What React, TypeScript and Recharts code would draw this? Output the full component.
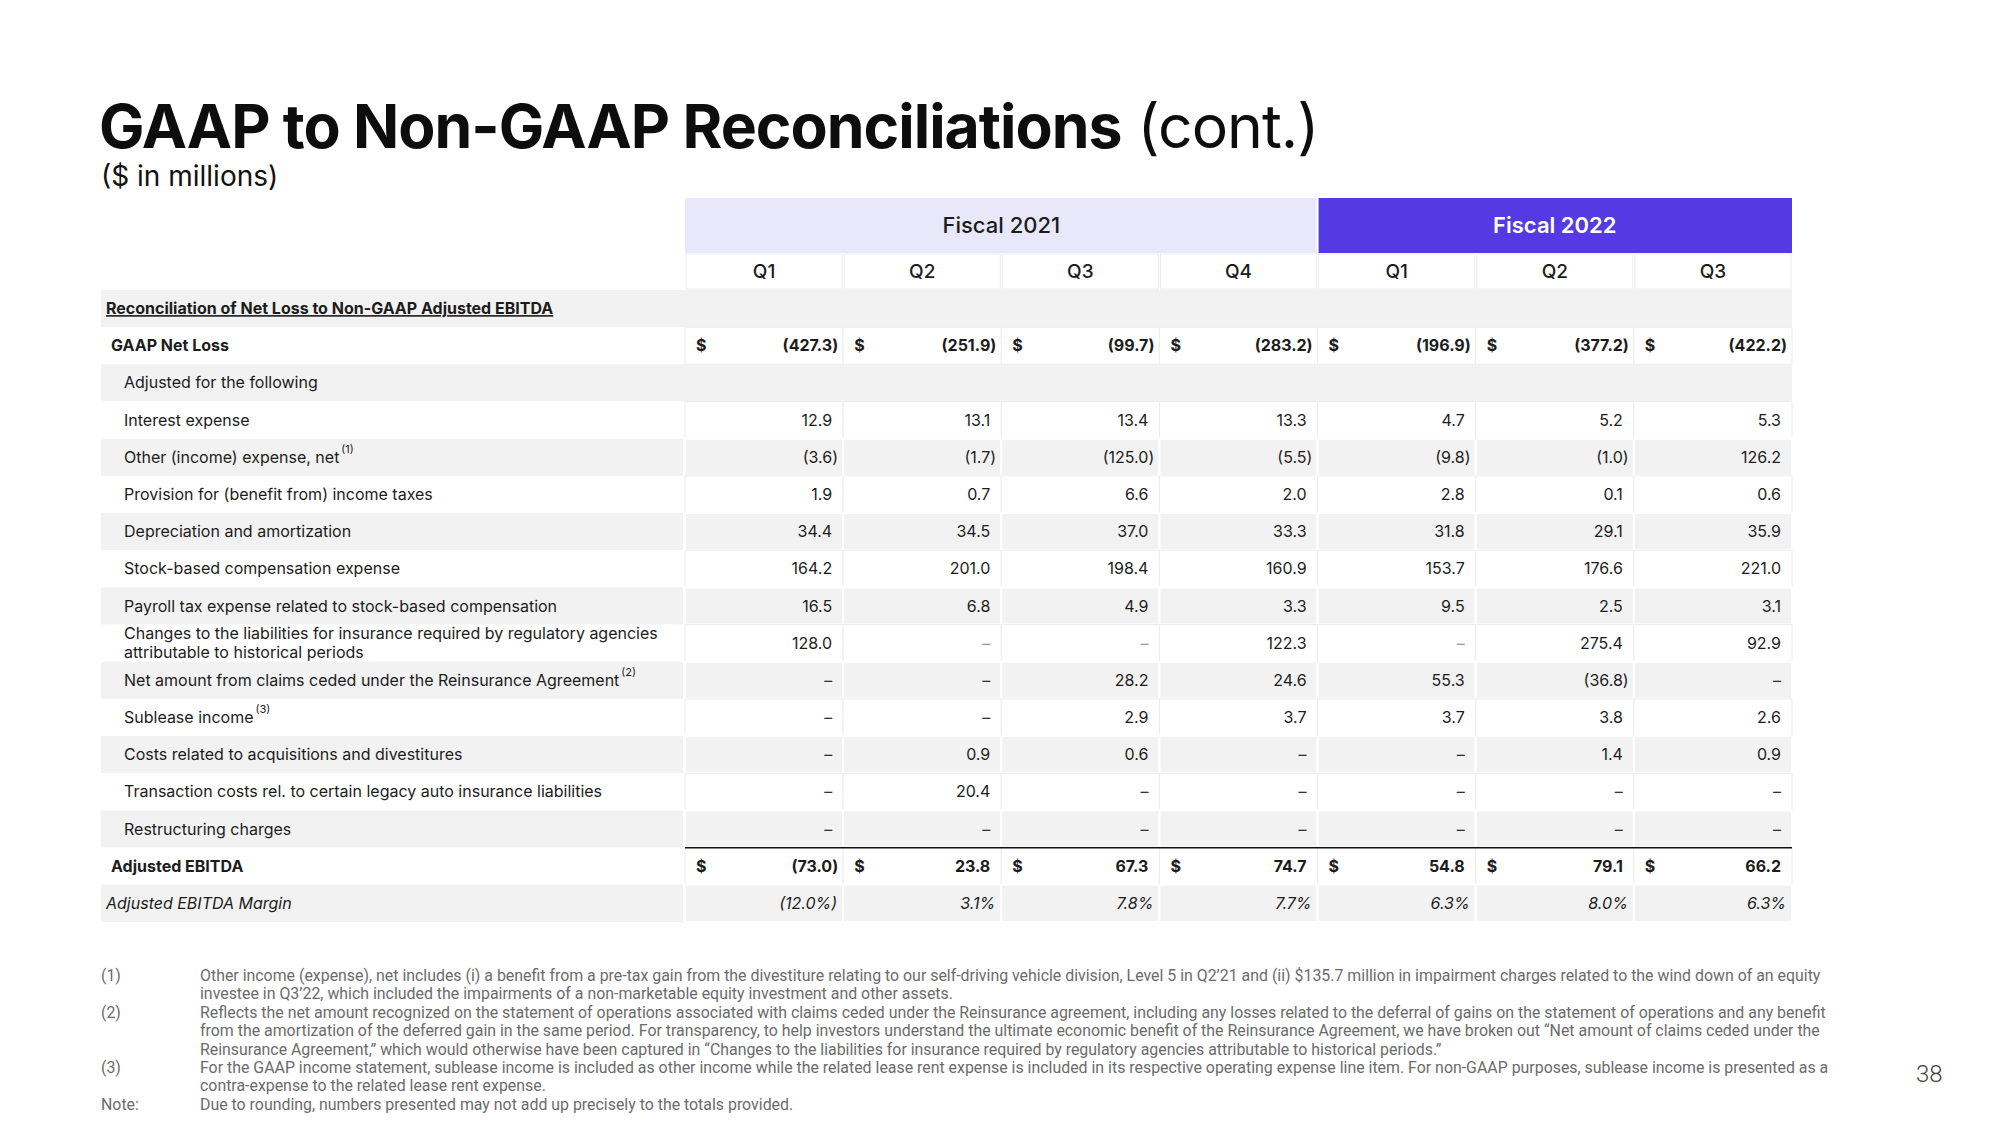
import React from 'react';
import { ScatterChart, Scatter, XAxis, YAxis, ReferenceArea } from 'recharts';

// row labels of the reconciliation table (top to bottom)
const rowLabels = [
  'Reconciliation of Net Loss to Non-GAAP Adjusted EBITDA',
  'GAAP Net Loss',
  'Adjusted for the following',
  'Interest expense',
  'Other (income) expense, net',
  'Provision for (benefit from) income taxes',
  'Depreciation and amortization',
  'Stock-based compensation expense',
  'Payroll tax expense related to stock-based compensation',
  'Changes to the liabilities for insurance required by regulatory agencies\nattributable to historical periods',
  'Net amount from claims ceded under the Reinsurance Agreement',
  'Sublease income',
  'Costs related to acquisitions and divestitures',
  'Transaction costs rel. to certain legacy auto insurance liabilities',
  'Restructuring charges',
  'Adjusted EBITDA',
  'Adjusted EBITDA Margin',
];
const rowNotes = [null, null, null, null, '(1)', null, null, null, null, null, '(2)', '(3)', null, null, null, null, null];

const quarterKeys = ['Q1 FY21', 'Q2 FY21', 'Q3 FY21', 'Q4 FY21', 'Q1 FY22', 'Q2 FY22', 'Q3 FY22'];
const quarterLabels = ['Q1', 'Q2', 'Q3', 'Q4', 'Q1', 'Q2', 'Q3'];
const fiscalYears = ['Fiscal 2021', 'Fiscal 2022'];
const quarterFiscal = [0, 0, 0, 0, 1, 1, 1];

// $ in millions; null = blank cell, 0 = dash; last row is margin in %
const q1fy21 = [null, -427.3, null, 12.9, -3.6, 1.9, 34.4, 164.2, 16.5, 128.0, 0, 0, 0, 0, 0, -73.0, -12.0];
const q2fy21 = [null, -251.9, null, 13.1, -1.7, 0.7, 34.5, 201.0, 6.8, 0, 0, 0, 0.9, 20.4, 0, 23.8, 3.1];
const q3fy21 = [null, -99.7, null, 13.4, -125.0, 6.6, 37.0, 198.4, 4.9, 0, 28.2, 2.9, 0.6, 0, 0, 67.3, 7.8];
const q4fy21 = [null, -283.2, null, 13.3, -5.5, 2.0, 33.3, 160.9, 3.3, 122.3, 24.6, 3.7, 0, 0, 0, 74.7, 7.7];
const q1fy22 = [null, -196.9, null, 4.7, -9.8, 2.8, 31.8, 153.7, 9.5, 0, 55.3, 3.7, 0, 0, 0, 54.8, 6.3];
const q2fy22 = [null, -377.2, null, 5.2, -1.0, 0.1, 29.1, 176.6, 2.5, 275.4, -36.8, 3.8, 1.4, 0, 0, 79.1, 8.0];
const q3fy22 = [null, -422.2, null, 5.3, 126.2, 0.6, 35.9, 221.0, 3.1, 92.9, 0, 2.6, 0.9, 0, 0, 66.2, 6.3];
const seriesByQuarter = [q1fy21, q2fy21, q3fy21, q4fy21, q1fy22, q2fy22, q3fy22];

const footnotes = [
  { mark: '(1)', text: 'Other income (expense), net includes (i) a benefit from a pre-tax gain from the divestiture relating to our self-driving vehicle division, Level 5 in Q2\u201921 and (ii) $135.7 million in impairment charges related to the wind down of an equity' },
  { mark: '', text: 'investee in Q3\u201922, which included the impairments of a non-marketable equity investment and other assets.' },
  { mark: '(2)', text: 'Reflects the net amount recognized on the statement of operations associated with claims ceded under the Reinsurance agreement, including any losses related to the deferral of gains on the statement of operations and any benefit' },
  { mark: '', text: 'from the amortization of the deferred gain in the same period. For transparency, to help investors understand the ultimate economic benefit of the Reinsurance Agreement, we have broken out \u201cNet amount of claims ceded under the' },
  { mark: '', text: 'Reinsurance Agreement,\u201d which would otherwise have been captured in \u201cChanges to the liabilities for insurance required by regulatory agencies attributable to historical periods.\u201d' },
  { mark: '(3)', text: 'For the GAAP income statement, sublease income is included as other income while the related lease rent expense is included in its respective operating expense line item. For non-GAAP purposes, sublease income is presented as a' },
  { mark: '', text: 'contra-expense to the related lease rent expense.' },
  { mark: 'Note:', text: 'Due to rounding, numbers presented may not add up precisely to the totals provided.' },
];

const cells = [];
rowLabels.forEach((row, r) => {
  quarterKeys.forEach((q, c) => {
    cells.push({ row, quarter: q, rowIdx: r, colIdx: c, value: seriesByQuarter[c][r] });
  });
});

const W = 2000;
const H = 1125;
const LEFT = 101;
const PLOT_L = 685;
const PLOT_R = 1792;
const HEAD_TOP = 198;
const FY_H = 55;
const PLOT_T = 290;
const PLOT_B = 922;
const COL_W = (PLOT_R - PLOT_L) / quarterKeys.length;
const ROW_H = (PLOT_B - PLOT_T) / rowLabels.length;

const FONT = 'Inter, "Noto Sans", sans-serif';
const INK = '#1c1c1c';
const STRIPE = '#f2f2f2';
const TOTAL_ROWS = [1, 15];
const MARGIN_ROW = 16;
const SOLID_ROWS = [0, 2]; // gray rows without cell gaps

function QuarterTick(props) {
  const { x, payload } = props;
  const i = quarterKeys.indexOf(payload.value);
  const left = x - COL_W / 2;
  const fy = quarterFiscal[i];
  const first = quarterFiscal.indexOf(fy) === i;
  const n = quarterFiscal.filter((f) => f === fy).length;
  return (
    <g>
      {first && (
        <g>
          <rect x={left + (fy ? 1 : 0)} y={HEAD_TOP} width={n * COL_W - 1} height={FY_H} fill={fy ? '#5539e3' : '#e9e8fb'} />
          <text x={left + (n * COL_W) / 2} y={HEAD_TOP + 35} textAnchor="middle" fontFamily={FONT} fontSize={22} fontWeight={fy ? 600 : 500} fill={fy ? '#fff' : INK}>
            {fiscalYears[fy]}
          </text>
        </g>
      )}
      <rect x={left + 1} y={HEAD_TOP + FY_H + 1} width={COL_W - 2} height={PLOT_T - HEAD_TOP - FY_H - 2} fill="#fff" stroke="#ececec" />
      <text x={x} y={278} textAnchor="middle" fontFamily={FONT} fontSize={19} fontWeight={500} fill={INK}>
        {quarterLabels[i]}
      </text>
    </g>
  );
}

function RowTick(props) {
  const { y, payload } = props;
  const i = rowLabels.indexOf(payload.value);
  const gray = i % 2 === 0;
  const lines = payload.value.split('\n');
  let lx = 124;
  let weight = 400;
  let style = 'normal';
  if (i === 0) { lx = 106; weight = 700; }
  if (TOTAL_ROWS.includes(i)) { lx = 111; weight = 700; }
  if (i === MARGIN_ROW) { lx = 106; style = 'italic'; }
  const top = lines.length > 1 ? y - 4.5 : y + 5.5;
  return (
    <g>
      <rect x={LEFT} y={y - ROW_H / 2} width={(SOLID_ROWS.includes(i) ? PLOT_L : PLOT_L - 2) - LEFT} height={ROW_H} fill={gray ? STRIPE : '#fff'} />
      <text x={lx} y={top} fontFamily={FONT} fontSize={16} fontWeight={weight} fontStyle={style} fill={INK} textDecoration={i === 0 ? 'underline' : undefined}>
        {lines.map((ln, k) => (
          <tspan key={k} x={lx} dy={k === 0 ? 0 : 19}>{ln}</tspan>
        ))}
        {rowNotes[i] && <tspan dx={2} dy={-10} fontSize={11}>{rowNotes[i]}</tspan>}
      </text>
    </g>
  );
}

function ValueCell(props) {
  const { cx, cy, payload } = props;
  const { value, rowIdx } = payload;
  if (value == null) return <g />;
  const colL = cx - COL_W / 2;
  const right = cx + COL_W / 2 - 11;
  const bold = TOTAL_ROWS.includes(rowIdx);
  const base = cy + 5.5;
  const common = { fontFamily: FONT, fontSize: 16, fill: INK, fontWeight: bold ? 700 : 400 };
  if (rowIdx === MARGIN_ROW) {
    const txt = value < 0 ? `(${Math.abs(value).toFixed(1)}%)` : `${value.toFixed(1)}%`;
    return (
      <text x={cx + COL_W / 2 - 6} y={base} textAnchor="end" {...common} fontStyle="italic">{txt}</text>
    );
  }
  return (
    <g>
      {bold && <text x={colL + 11} y={base} {...common}>$</text>}
      {value === 0 ? (
        <text x={right} y={base} textAnchor="end" {...common} fill={rowIdx === 9 ? '#9a9a9a' : '#333'}>{'\u2013'}</text>
      ) : value < 0 ? (
        <g>
          <text x={right} y={base} textAnchor="end" {...common}>{`(${Math.abs(value).toFixed(1)}`}</text>
          <text x={right} y={base} {...common}>)</text>
        </g>
      ) : (
        <text x={right} y={base} textAnchor="end" {...common}>{value.toFixed(1)}</text>
      )}
    </g>
  );
}

export default function App() {
  const areas = [];
  rowLabels.forEach((row, r) => {
    if (SOLID_ROWS.includes(r)) {
      areas.push(
        <ReferenceArea
          key={`solid-${r}`}
          x1={quarterKeys[0]} x2={quarterKeys[quarterKeys.length - 1]} y1={row} y2={row}
          ifOverflow="visible" fill={STRIPE} fillOpacity={1}
        />
      );
      return;
    }
    const gray = r % 2 === 0;
    quarterKeys.forEach((q) => {
      areas.push(
        <ReferenceArea
          key={`${r}-${q}`}
          x1={q} x2={q} y1={row} y2={row}
          ifOverflow="visible"
          fill={gray ? STRIPE : '#fff'}
          fillOpacity={1}
          stroke={gray ? '#fff' : '#ececec'}
          strokeWidth={gray ? 2 : 1}
        />
      );
    });
  });

  return (
    <div style={{ position: 'relative', width: W, height: H, background: '#fff' }}>
      <style>{'body{margin:0}'}</style>
      <div style={{ position: 'absolute', left: 0, top: 0 }}>
        <ScatterChart width={W} height={H} margin={{ top: HEAD_TOP, right: W - PLOT_R, bottom: H - PLOT_B, left: LEFT }}>
          <XAxis
            type="category"
            dataKey="quarter"
            orientation="top"
            height={PLOT_T - HEAD_TOP}
            allowDuplicatedCategory={false}
            interval={0}
            tickLine={false}
            axisLine={false}
            tick={(p) => <QuarterTick {...p} />}
          />
          <YAxis
            type="category"
            dataKey="row"
            width={PLOT_L - LEFT}
            allowDuplicatedCategory={false}
            reversed
            interval={0}
            tickLine={false}
            axisLine={false}
            tick={(p) => <RowTick {...p} />}
          />
          {areas}
          <ReferenceArea
            x1={quarterKeys[0]} x2={quarterKeys[quarterKeys.length - 1]} y1={rowLabels[15]} y2={rowLabels[15]}
            ifOverflow="visible"
            shape={(p) => <line x1={p.x} x2={p.x + p.width} y1={p.y} y2={p.y} stroke="#111" strokeWidth={1.5} />}
          />
          <Scatter data={cells} isAnimationActive={false} shape={(p) => <ValueCell {...p} />} />
        </ScatterChart>
      </div>
      <svg width={W} height={H} style={{ position: 'absolute', left: 0, top: 0, pointerEvents: 'none' }}>
        <text x={LEFT - 2} y={148} fontFamily={FONT} fontSize={60.7} fill="#0d0d0d" letterSpacing={-1}>
          <tspan fontWeight={700}>GAAP to Non-GAAP Reconciliations</tspan>
          <tspan fontWeight={400}> (cont.)</tspan>
        </text>
        <text x={LEFT} y={186} fontFamily={FONT} fontSize={28} fill="#111">($ in millions)</text>
        {footnotes.map((f, i) => (
          <g key={i}>
            {f.mark && <text x={LEFT} y={981 + i * 18.4} fontFamily="Roboto, sans-serif" fontSize={15.9} fill="#6b6b6b">{f.mark}</text>}
            <text x={200} y={981 + i * 18.4} fontFamily="Roboto, sans-serif" fontSize={15.9} fill="#6b6b6b">{f.text}</text>
          </g>
        ))}
        <text x={1916} y={1082} fontFamily="Roboto, sans-serif" fontSize={24} fontWeight={300} fill="#444">38</text>
      </svg>
    </div>
  );
}
